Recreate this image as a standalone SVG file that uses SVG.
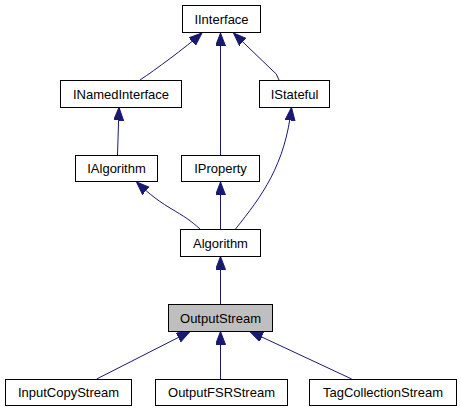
<svg xmlns="http://www.w3.org/2000/svg" width="461" height="410" viewBox="0 0 461 410">
<style>
.box{fill:#ffffff;stroke:#000000;stroke-width:1}
.cur{fill:#bfbfbf;stroke:#000000;stroke-width:1}
.lbl{font-family:"Liberation Sans",Arial,sans-serif;font-size:13px;fill:#000000;text-anchor:middle}
.edge{fill:none;stroke:#191970;stroke-width:1;marker-end:url(#arr)}
</style>
<defs>
<marker id="arr" markerUnits="userSpaceOnUse" markerWidth="14" markerHeight="12" refX="13" refY="5" orient="auto">
<path d="M0,0 L13,5 L0,10 Z" fill="#191970" stroke="#191970" stroke-width="1"/>
</marker>
</defs>
<rect width="461" height="410" fill="#ffffff"/>
<g id="connectors">
<path class="edge" d="M140,80 C155,70 185,48 202,33"/>
<path class="edge" d="M279,80 Q277,73 272,70 L233.5,33"/>
<path class="edge" d="M220.5,155 L220.5,33"/>
<path class="edge" d="M117.5,155 L119,107.5"/>
<path class="edge" d="M200,229 C190,220 185,217 170,208 C155,199 145,190 136.5,182"/>
<path class="edge" d="M220.5,229 L220.5,182"/>
<path class="edge" d="M235.5,229 C262,196 285,165 291.5,107.5"/>
<path class="edge" d="M220.5,304 L220.5,256.5"/>
<path class="edge" d="M96.7,379 L190,331.5"/>
<path class="edge" d="M220.5,379 L220.5,331.5"/>
<path class="edge" d="M351.7,379 L250,331.5"/>
</g>
<g id="IInterface"><rect class="box" x="182.5" y="5.5" width="78" height="27"/><text class="lbl" x="221.5" y="23.5">IInterface</text></g>
<g id="INamedInterface"><rect class="box" x="60.5" y="80.5" width="121" height="27"/><text class="lbl" x="121" y="98.5">INamedInterface</text></g>
<g id="IStateful"><rect class="box" x="259.5" y="80.5" width="70" height="27"/><text class="lbl" x="294.5" y="98.5">IStateful</text></g>
<g id="IAlgorithm"><rect class="box" x="75.5" y="155.5" width="82" height="26"/><text class="lbl" x="116.5" y="173">IAlgorithm</text></g>
<g id="IProperty"><rect class="box" x="181.5" y="155.5" width="78" height="26"/><text class="lbl" x="220.5" y="173">IProperty</text></g>
<g id="Algorithm"><rect class="box" x="180.5" y="229.5" width="80" height="27"/><text class="lbl" x="220.5" y="247.5">Algorithm</text></g>
<g id="OutputStream"><rect class="cur" x="168.5" y="304.5" width="104" height="27"/><text class="lbl" x="220.5" y="322.5">OutputStream</text></g>
<g id="InputCopyStream"><rect class="box" x="5.5" y="379.5" width="126" height="26"/><text class="lbl" x="68.5" y="397">InputCopyStream</text></g>
<g id="OutputFSRStream"><rect class="box" x="155.5" y="379.5" width="132" height="26"/><text class="lbl" x="221.5" y="397">OutputFSRStream</text></g>
<g id="TagCollectionStream"><rect class="box" x="309.5" y="379.5" width="147" height="26"/><text class="lbl" x="383" y="397">TagCollectionStream</text></g>
</svg>
